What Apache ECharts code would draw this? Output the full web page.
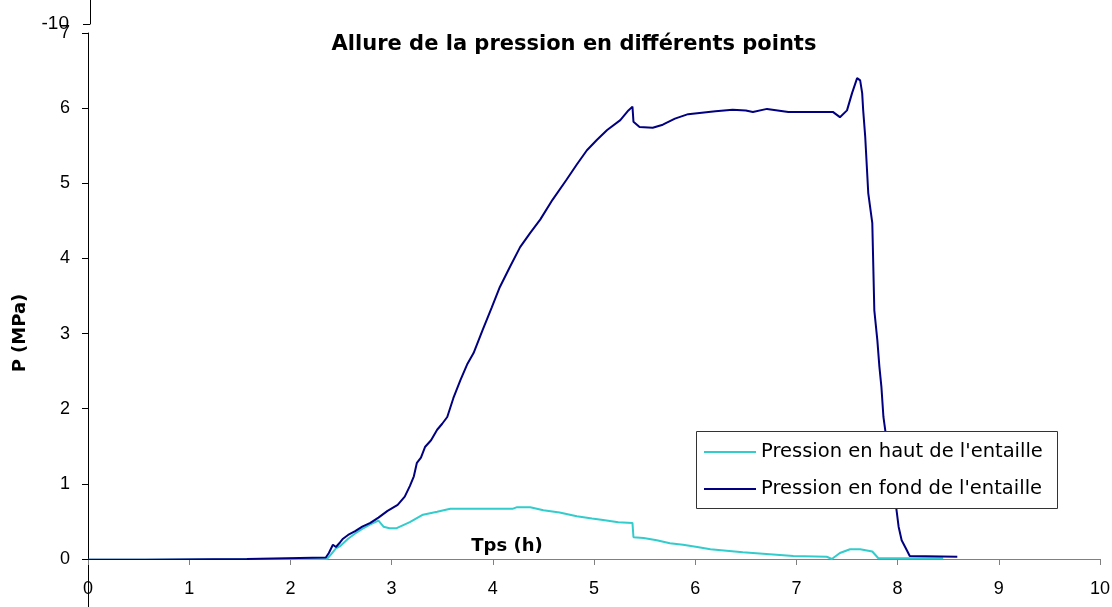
<!DOCTYPE html>
<html>
<head>
<meta charset="utf-8">
<script src="https://cdn.jsdelivr.net/npm/echarts@6/dist/echarts.min.js"></script>
<style>html,body{margin:0;padding:0;background:#fff;}#c{width:1112px;height:607px;}</style>
</head>
<body>
<div id="c"></div>
<script>
// ---- data ----
var seriesNames = ["Pression en haut de l'entaille", "Pression en fond de l'entaille"];
var xTicks = [0, 1, 2, 3, 4, 5, 6, 7, 8, 9, 10];
var yTicks = [0, 1, 2, 3, 4, 5, 6, 7];

var tempsHaut = [0, 0.58, 0.59, 2.36, 2.40, 2.45, 2.49, 2.57, 2.64, 2.71, 2.79, 2.87, 2.92, 2.98, 3.05, 3.18, 3.31, 3.45, 3.58, 4.20, 4.24, 4.37, 4.50, 4.66, 4.83, 4.98, 5.09, 5.24, 5.38, 5.39, 5.49, 5.62, 5.75, 5.88, 6.02, 6.15, 6.31, 6.47, 6.67, 6.97, 7.30, 7.35, 7.43, 7.53, 7.63, 7.75, 7.81, 8.45];
var pressionHaut = [-0.01, -0.01, 0, 0, 0.06, 0.14, 0.17, 0.27, 0.34, 0.40, 0.46, 0.51, 0.43, 0.41, 0.41, 0.49, 0.59, 0.63, 0.67, 0.67, 0.69, 0.69, 0.65, 0.62, 0.57, 0.54, 0.52, 0.49, 0.48, 0.29, 0.28, 0.25, 0.21, 0.19, 0.16, 0.13, 0.11, 0.09, 0.07, 0.04, 0.03, 0.0, 0.08, 0.13, 0.13, 0.10, 0.01, 0.01];

var tempsFond = [0, 0.57, 0.58, 1.57, 1.58, 2.35, 2.38, 2.42, 2.45, 2.49, 2.52, 2.57, 2.64, 2.71, 2.79, 2.87, 2.96, 3.06, 3.13, 3.18, 3.22, 3.25, 3.29, 3.33, 3.39, 3.45, 3.50, 3.55, 3.61, 3.68, 3.75, 3.81, 3.90, 3.99, 4.07, 4.17, 4.27, 4.37, 4.47, 4.59, 4.73, 4.83, 4.93, 5.03, 5.13, 5.26, 5.34, 5.38, 5.39, 5.45, 5.58, 5.68, 5.80, 5.93, 6.20, 6.37, 6.50, 6.57, 6.71, 6.92, 7.36, 7.43, 7.50, 7.55, 7.60, 7.63, 7.65, 7.66, 7.68, 7.71, 7.75, 7.77, 7.80, 7.82, 7.84, 7.86, 7.92, 7.98, 8.01, 8.04, 8.09, 8.12, 8.59];
var pressionFond = [-0.01, -0.01, 0, 0, 0.02, 0.02, 0.08, 0.19, 0.16, 0.22, 0.27, 0.32, 0.37, 0.43, 0.48, 0.55, 0.64, 0.72, 0.83, 0.97, 1.10, 1.28, 1.35, 1.49, 1.58, 1.72, 1.80, 1.89, 2.14, 2.38, 2.60, 2.74, 3.05, 3.35, 3.62, 3.89, 4.15, 4.34, 4.52, 4.78, 5.05, 5.25, 5.44, 5.58, 5.71, 5.84, 5.97, 6.02, 5.82, 5.75, 5.74, 5.78, 5.86, 5.92, 5.96, 5.98, 5.97, 5.95, 5.99, 5.95, 5.95, 5.88, 5.97, 6.20, 6.40, 6.37, 6.20, 5.97, 5.62, 4.87, 4.47, 3.31, 2.91, 2.56, 2.29, 1.89, 1.30, 0.75, 0.43, 0.25, 0.12, 0.04, 0.03];

function zip(a, b) { return a.map(function (v, i) { return [v, b[i]]; }); }

var chart = echarts.init(document.getElementById('c'), null, { renderer: 'canvas' });
var labelFont = 'Liberation Sans, Arial, sans-serif';
var textFont = 'DejaVu Sans, Verdana, sans-serif';

chart.setOption({
  backgroundColor: '#ffffff',
  animation: false,
  grid: [
    { left: 88, right: 12, top: 33, bottom: 48, containLabel: false, outerBoundsMode: 'none' },
    { left: 90, top: -10, height: 34, width: 100, containLabel: false, outerBoundsMode: 'none' },
    { left: 88, top: 559, height: 70, width: 100, containLabel: false, outerBoundsMode: 'none' }
  ],
  xAxis: [
    {
      type: 'value', gridIndex: 0, min: xTicks[0], max: xTicks[xTicks.length - 1], interval: 1,
      axisLine: { show: true, onZero: false, lineStyle: { color: '#808080', width: 1 } },
      axisTick: { show: true, length: 6, lineStyle: { color: '#808080' } },
      axisLabel: { margin: 21, color: '#000', fontSize: 18, fontFamily: labelFont },
      splitLine: { show: false }
    },
    { type: 'value', gridIndex: 1, show: false, min: 0, max: 1 },
    { type: 'value', gridIndex: 2, show: false, min: 0, max: 1 }
  ],
  yAxis: [
    {
      type: 'value', gridIndex: 0, min: yTicks[0], max: yTicks[yTicks.length - 1], interval: 1,
      axisLine: { show: true, onZero: false, lineStyle: { color: '#000', width: 1 } },
      axisTick: { show: true, length: 6, lineStyle: { color: '#000' } },
      axisLabel: { margin: 18, color: '#000', fontSize: 18, fontFamily: labelFont },
      splitLine: { show: false }
    },
    {
      type: 'value', gridIndex: 1, min: -10, max: 0, interval: 10,
      axisLine: { show: true, onZero: false, lineStyle: { color: '#000', width: 1 } },
      axisTick: { show: true, length: 7, lineStyle: { color: '#000' } },
      axisLabel: { margin: 21, color: '#000', fontSize: 19, fontFamily: labelFont, padding: [4, 0, 0, 0],
        formatter: function (v) { return v === -10 ? '-10' : ''; } },
      splitLine: { show: false }
    },
    {
      type: 'value', gridIndex: 2, min: 0, max: 1,
      axisLine: { show: true, onZero: false, lineStyle: { color: '#000', width: 1 } },
      axisTick: { show: false }, axisLabel: { show: false }, splitLine: { show: false }
    }
  ],
  legend: {
    show: true, orient: 'vertical', left: 704, top: 441, padding: 0,
    itemWidth: 52, itemHeight: 2, itemGap: 15, icon: 'rect',
    textStyle: { fontSize: 19.5, fontFamily: textFont, color: '#000', lineHeight: 22 },
    data: seriesNames, z: 10
  },
  graphic: [
    { type: 'rect', z: 5, shape: { x: 696.5, y: 431.5, width: 361, height: 77 },
      style: { fill: '#fff', stroke: '#333', lineWidth: 1 } },
    { type: 'text', z: 10, x: 574, y: 45,
      style: { text: 'Allure de la pression en différents points', font: 'bold 21px ' + textFont,
        fill: '#000', textAlign: 'center', textVerticalAlign: 'middle' } },
    { type: 'text', z: 10, x: 507, y: 546,
      style: { text: 'Tps (h)', font: 'bold 18px ' + textFont,
        fill: '#000', textAlign: 'center', textVerticalAlign: 'middle' } },
    { type: 'text', z: 10, x: 20, y: 333, rotation: Math.PI / 2,
      style: { text: 'P (MPa)', font: 'bold 18px ' + textFont,
        fill: '#000', textAlign: 'center', textVerticalAlign: 'middle' } }
  ],
  series: [
    { name: seriesNames[0], type: 'line', xAxisIndex: 0, yAxisIndex: 0, data: zip(tempsHaut, pressionHaut),
      showSymbol: false, symbol: 'none', color: '#33CCCC', lineStyle: { color: '#33CCCC', width: 2 }, z: 2 },
    { name: seriesNames[1], type: 'line', xAxisIndex: 0, yAxisIndex: 0, data: zip(tempsFond, pressionFond),
      showSymbol: false, symbol: 'none', color: '#000080', lineStyle: { color: '#000080', width: 2 }, z: 3 }
  ]
});
</script>
</body>
</html>
